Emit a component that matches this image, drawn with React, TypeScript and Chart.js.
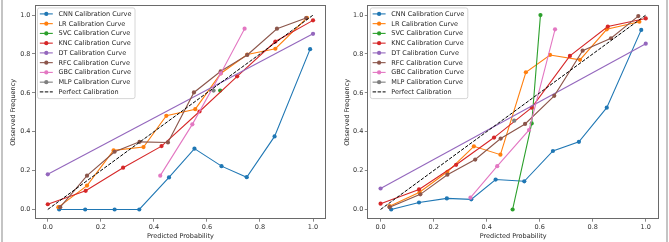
import React, { useEffect, useRef } from 'react';
import { Chart, registerables } from 'chart.js';

Chart.register(...registerables);
Chart.defaults.font.family = '"DejaVu Sans", sans-serif';

const SERIES = ['CNN', 'LR', 'SVC', 'KNC', 'DT', 'RFC', 'GBC', 'MLP'];
const COLORS = ['#1f77b4', '#ff7f0e', '#2ca02c', '#d62728', '#9467bd', '#8c564b', '#e377c2', '#7f7f7f'];
const AXIS_TICKS = [0, 0.2, 0.4, 0.6, 0.8, 1.0];
const PERFECT_X = [0, 1];
const PERFECT_Y = [0, 1];
const X_TITLE = 'Predicted Probability';
const Y_TITLE = 'Observed Frequency';

// ---- Left panel ----
const L_CNN_X = [0.043, 0.141, 0.252, 0.345, 0.457, 0.553, 0.655, 0.75, 0.855, 0.989];
const L_CNN_Y = [0, 0, 0, 0, 0.165, 0.313, 0.223, 0.166, 0.376, 0.825];
const L_LR_X = [0.04, 0.148, 0.248, 0.361, 0.447, 0.556, 0.652, 0.752, 0.858, 0.977];
const L_LR_Y = [0.012, 0.123, 0.304, 0.321, 0.482, 0.516, 0.7, 0.797, 0.827, 0.986];
const L_SVC_X = [0.65];
const L_SVC_Y = [0.612];
const L_KNC_X = [0, 0.143, 0.284, 0.429, 0.572, 0.714, 0.858, 1.0];
const L_KNC_Y = [0.027, 0.096, 0.215, 0.326, 0.504, 0.685, 0.864, 0.973];
const L_DT_X = [0, 1];
const L_DT_Y = [0.181, 0.904];
const L_RFC_X = [0.047, 0.148, 0.252, 0.346, 0.453, 0.551, 0.652, 0.752, 0.864, 0.974];
const L_RFC_Y = [0.012, 0.174, 0.297, 0.348, 0.345, 0.602, 0.711, 0.795, 0.93, 0.985];
const L_GBC_X = [0.424, 0.545, 0.652, 0.742];
const L_GBC_Y = [0.174, 0.438, 0.7, 0.93];
const L_MLP_X = [0.625];
const L_MLP_Y = [0.612];

// ---- Right panel ----
const R_CNN_X = [0.04, 0.145, 0.25, 0.342, 0.434, 0.542, 0.65, 0.748, 0.853, 0.983];
const R_CNN_Y = [0.0, 0.036, 0.057, 0.052, 0.154, 0.145, 0.301, 0.348, 0.524, 0.924];
const R_LR_X = [0.034, 0.147, 0.252, 0.352, 0.452, 0.548, 0.639, 0.752, 0.853, 0.976];
const R_LR_Y = [0.017, 0.089, 0.194, 0.325, 0.282, 0.706, 0.795, 0.77, 0.927, 0.966];
const R_SVC_X = [0.498, 0.57, 0.603];
const R_SVC_Y = [0, 0.443, 1.0];
const R_KNC_X = [0, 0.145, 0.285, 0.428, 0.57, 0.714, 0.857, 1.0];
const R_KNC_Y = [0.03, 0.103, 0.23, 0.37, 0.524, 0.79, 0.941, 0.983];
const R_DT_X = [0, 1];
const R_DT_Y = [0.108, 0.853];
const R_RFC_X = [0.034, 0.15, 0.252, 0.357, 0.453, 0.545, 0.655, 0.762, 0.869, 0.972];
const R_RFC_Y = [0.012, 0.078, 0.179, 0.257, 0.365, 0.44, 0.585, 0.817, 0.881, 0.995];
const R_GBC_X = [0.339, 0.44, 0.56, 0.658];
const R_GBC_Y = [0.061, 0.223, 0.409, 0.927];
const R_MLP_X = [0.504];
const R_MLP_Y = [0.457];

const LEFT_XS = [L_CNN_X, L_LR_X, L_SVC_X, L_KNC_X, L_DT_X, L_RFC_X, L_GBC_X, L_MLP_X];
const LEFT_YS = [L_CNN_Y, L_LR_Y, L_SVC_Y, L_KNC_Y, L_DT_Y, L_RFC_Y, L_GBC_Y, L_MLP_Y];
const RIGHT_XS = [R_CNN_X, R_LR_X, R_SVC_X, R_KNC_X, R_DT_X, R_RFC_X, R_GBC_X, R_MLP_X];
const RIGHT_YS = [R_CNN_Y, R_LR_Y, R_SVC_Y, R_KNC_Y, R_DT_Y, R_RFC_Y, R_GBC_Y, R_MLP_Y];

const FONT = '6.5px "DejaVu Sans", sans-serif';
const TEXT_COLOR = '#262626';
const SPINE = '#6a6a6a';

type Geo = {
  left: number; // canvas left in page
  width: number;
  height: number;
  areaLeft: number;
  areaRight: number;
  areaTop: number;
  areaBottom: number;
  yTitlePad: number;
};

function makePlugin() {
  return {
    id: 'mplDecor',
    afterDatasetsDraw(chart: any) {
      const { ctx, chartArea: a } = chart;
      ctx.save();
      ctx.strokeStyle = SPINE;
      ctx.lineWidth = 1;
      const l = Math.round(a.left) + 0.5;
      const t = Math.round(a.top) + 0.5;
      const r = Math.round(a.right) - 0.5;
      const b = Math.round(a.bottom) - 0.5;
      ctx.strokeRect(l, t, r - l, b - t);
      ctx.restore();
    },
    afterDraw(chart: any) {
      const { ctx, chartArea: a } = chart;
      const bx = a.left + 3;
      const by = a.top + 2.5;
      const bw = 97.5;
      const bh = 90.7;
      ctx.save();
      ctx.beginPath();
      const rr = 2;
      ctx.moveTo(bx + rr, by);
      ctx.lineTo(bx + bw - rr, by);
      ctx.arcTo(bx + bw, by, bx + bw, by + rr, rr);
      ctx.lineTo(bx + bw, by + bh - rr);
      ctx.arcTo(bx + bw, by + bh, bx + bw - rr, by + bh, rr);
      ctx.lineTo(bx + rr, by + bh);
      ctx.arcTo(bx, by + bh, bx, by + bh - rr, rr);
      ctx.lineTo(bx, by + rr);
      ctx.arcTo(bx, by, bx + rr, by, rr);
      ctx.closePath();
      ctx.fillStyle = 'rgba(255,255,255,0.8)';
      ctx.fill();
      ctx.strokeStyle = '#cccccc';
      ctx.lineWidth = 0.8;
      ctx.stroke();

      const labels = [...SERIES.map((s) => `${s} Calibration Curve`), 'Perfect Calibration'];
      ctx.font = FONT;
      ctx.textBaseline = 'middle';
      ctx.textAlign = 'left';
      labels.forEach((lab, i) => {
        const cy = by + 6 + i * 9.75;
        const x1 = bx + 2.3;
        const x2 = bx + 15.3;
        ctx.beginPath();
        if (i < SERIES.length) {
          ctx.strokeStyle = COLORS[i];
          ctx.lineWidth = 1.1;
          ctx.setLineDash([]);
          ctx.moveTo(x1, cy);
          ctx.lineTo(x2, cy);
          ctx.stroke();
          ctx.beginPath();
          ctx.fillStyle = COLORS[i];
          ctx.arc((x1 + x2) / 2, cy, 2.1, 0, Math.PI * 2);
          ctx.fill();
        } else {
          ctx.strokeStyle = '#000';
          ctx.lineWidth = 1;
          ctx.setLineDash([3.5, 1.5]);
          ctx.moveTo(x1, cy);
          ctx.lineTo(x2, cy);
          ctx.stroke();
          ctx.setLineDash([]);
        }
        ctx.fillStyle = TEXT_COLOR;
        ctx.fillText(lab, bx + 21, cy + 0.3);
      });
      ctx.restore();
    },
  };
}

function Panel({ xs, ys, geo }: { xs: number[][]; ys: number[][]; geo: Geo }) {
  const ref = useRef<HTMLCanvasElement | null>(null);
  useEffect(() => {
    if (!ref.current) return;
    const datasets: any[] = SERIES.map((name, i) => ({
      label: `${name} Calibration Curve`,
      data: xs[i].map((x, j) => ({ x, y: ys[i][j] })),
      showLine: true,
      fill: false,
      borderColor: COLORS[i],
      backgroundColor: COLORS[i],
      borderWidth: 1.1,
      pointRadius: 2.1,
      pointHoverRadius: 2.1,
      pointBorderWidth: 0,
      order: SERIES.length + 1 - i,
    }));
    datasets.push({
      label: 'Perfect Calibration',
      data: PERFECT_X.map((x, j) => ({ x, y: PERFECT_Y[j] })),
      showLine: true,
      fill: false,
      borderColor: '#000000',
      borderDash: [3.5, 1.5],
      borderWidth: 1,
      pointRadius: 0,
      order: 1,
    });
    const tickCommon = {
      font: { size: 6.5 },
      color: '#333333',
      padding: 1.5,
      maxRotation: 0,
      autoSkip: false,
      callback: (v: any) => Number(v).toFixed(1),
    };
    const gridCommon = {
      drawOnChartArea: false,
      drawTicks: true,
      tickLength: 2.5,
      tickColor: SPINE,
      tickWidth: 0.8,
    };
    const chart = new Chart(ref.current, {
      type: 'scatter',
      data: { datasets },
      plugins: [makePlugin()],
      options: {
        animation: false,
        responsive: false,
        devicePixelRatio: 1,
        events: [],
        layout: {
          padding: {
            top: geo.areaTop,
            right: geo.width - geo.areaRight,
            left: 0,
            bottom: 0,
          },
        },
        plugins: { legend: { display: false }, tooltip: { enabled: false }, title: { display: false } },
        scales: {
          x: {
            type: 'linear',
            min: -0.05,
            max: 1.05,
            afterBuildTicks: (s: any) => {
              s.ticks = AXIS_TICKS.map((v) => ({ value: v }));
            },
            afterFit: (s: any) => {
              s.height = geo.height - geo.areaBottom;
            },
            ticks: tickCommon,
            grid: gridCommon,
            border: { display: false },
            title: {
              display: true,
              text: X_TITLE,
              font: { size: 6.5 },
              color: TEXT_COLOR,
              padding: { top: 0, bottom: 1.4 },
            },
          },
          y: {
            type: 'linear',
            min: -0.05,
            max: 1.05,
            afterBuildTicks: (s: any) => {
              s.ticks = AXIS_TICKS.map((v) => ({ value: v }));
            },
            afterFit: (s: any) => {
              s.width = geo.areaLeft;
            },
            ticks: tickCommon,
            grid: gridCommon,
            border: { display: false },
            title: {
              display: true,
              text: Y_TITLE,
              font: { size: 6.5 },
              color: TEXT_COLOR,
              padding: { top: geo.yTitlePad, bottom: 0 },
            },
          },
        },
      } as any,
    });
    return () => chart.destroy();
  }, []);
  return (
    <canvas
      ref={ref}
      width={geo.width}
      height={geo.height}
      style={{ position: 'absolute', left: geo.left, top: 0, width: geo.width, height: geo.height }}
    />
  );
}

const LEFT_GEO: Geo = {
  left: 0,
  width: 334,
  height: 242,
  areaLeft: 34.5,
  areaRight: 326.3,
  areaTop: 2.4,
  areaBottom: 219.2,
  yTitlePad: 9.1,
};
const RIGHT_GEO: Geo = {
  left: 334,
  width: 335,
  height: 242,
  areaLeft: 33.3,
  areaRight: 325,
  areaTop: 2.4,
  areaBottom: 219.2,
  yTitlePad: 9.4,
};

export default function App() {
  return (
    <div
      style={{
        position: 'absolute',
        left: 0,
        top: 0,
        width: 669,
        height: 242,
        background: '#ffffff',
        overflow: 'hidden',
      }}
    >
      <Panel xs={LEFT_XS} ys={LEFT_YS} geo={LEFT_GEO} />
      <Panel xs={RIGHT_XS} ys={RIGHT_YS} geo={RIGHT_GEO} />
      <div style={{ position: 'absolute', left: 1, top: 0, width: 2, height: 242, background: '#c4c4c4' }} />
      <div style={{ position: 'absolute', left: 666, top: 0, width: 2, height: 242, background: '#c4c4c4' }} />
    </div>
  );
}
